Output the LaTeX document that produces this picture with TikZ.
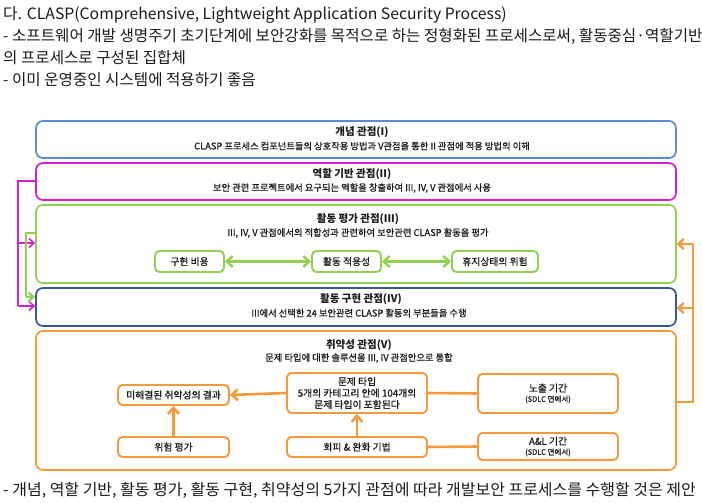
\documentclass[tikz,border=0pt]{standalone}
\usepackage{graphicx}
\usepackage{fontspec}
\setmainfont{Noto Sans CJK KR}
\newfontfamily\semib[FakeBold=0.8]{Noto Sans CJK KR}
\usetikzlibrary{arrows.meta}
\definecolor{cI}{HTML}{5B8BD3}
\definecolor{cII}{HTML}{D81FD0}
\definecolor{cIII}{HTML}{92D050}
\definecolor{cIV}{HTML}{35599A}
\definecolor{cV}{HTML}{F9993A}
\definecolor{txt}{HTML}{1A1A1A}
\begin{document}
\begin{tikzpicture}[x=1pt,y=-1pt,
  bigbox/.style={draw=#1, line width=1.7pt, rounded corners=7pt, inner sep=0pt},
  smallbox/.style={draw=#1, line width=1.9pt, rounded corners=4.5pt, inner sep=0pt, text=txt, font=\semib\fontsize{9.8}{12}\selectfont, align=center},
  ttl/.style={text=txt, inner sep=0pt, font=\bfseries\fontsize{10.5}{12}\selectfont},
  subt/.style={text=txt, inner sep=0pt, font=\semib\fontsize{9.3}{10}\selectfont},
  head/.style={text=txt, inner sep=0pt, anchor=west, font=\fontsize{15.6}{17}\selectfont},
  garrow/.style={draw=cIII, line width=2.4pt, {Straight Barb[length=6pt,width=11pt]}-{Straight Barb[length=6pt,width=11pt]}},
  oarrow/.style={draw=cV, line width=2.6pt, -{Straight Barb[length=6pt,width=11pt]}},
  oline/.style={draw=cV, line width=2.6pt},
  marrow/.style={draw=cII, line width=1.6pt, -{Straight Barb[length=5pt,width=9pt]}},
  grarrow/.style={draw=cIII, line width=2.2pt, -{Straight Barb[length=5pt,width=9pt]}},
  orarrow/.style={draw=cV, line width=2.4pt, -{Straight Barb[length=5pt,width=10pt]}}
]
\useasboundingbox (0,0) rectangle (702,503);

% header text
\node[head] (h1) at (3,15) {\scalebox{1.01}[1]{다. CLASP(Comprehensive, Lightweight Application Security Process)}};
\node[head] (h2) at (3,36) {- 소프트웨어 개발 생명주기 초기단계에 보안강화를 목적으로 하는 정형화된 프로세스로써, 활동중심·역할기반};
\node[head] (h3) at (3,58) {의 프로세스로 구성된 집합체};
\node[head] (h4) at (3,80) {- 이미 운영중인 시스템에 적용하기 좋음};
\node[head] (h5) at (3,490) {\scalebox{1.025}[1]{- 개념, 역할 기반, 활동 평가, 활동 구현, 취약성의 5가지 관점에 따라 개발보안 프로세스를 수행할 것은 제안}};

% big boxes
\node[bigbox=cI, minimum width=640pt, minimum height=37pt] (b1) at (356,139.5) {};
\node[bigbox=cII, minimum width=640pt, minimum height=37pt] (b2) at (356,181.5) {};
\node[bigbox=cIII, minimum width=640pt, minimum height=78pt] (b3) at (356,244) {};
\node[bigbox=cIV, minimum width=640pt, minimum height=38pt] (b4) at (356,307) {};
\node[bigbox=cV, minimum width=640pt, minimum height=139pt] (b5) at (356,400.5) {};

% titles
\node[ttl] (t1) at (362,132) {개념 관점(I)};
\node[subt] (s1) at (362,146) {CLASP 프로세스 컴포넌트들의 상호작용 방법과 V관점을 통한 II 관점에 적용 방법의 이해};
\node[ttl] (t2) at (352,174) {역할 기반 관점(II)};
\node[subt] (s2) at (352,188) {보안 관련 프로젝트에서 요구되는 역할을 창출하여 III, IV, V 관점에서 사용};
\node[ttl] (t3) at (358,219) {활동 평가 관점(III)};
\node[subt] (s3) at (358,233) {III, IV, V 관점에서의 적합성과 관련하여 보안관련 CLASP 활동을 평가};
\node[ttl] (t4) at (361,299) {활동 구현 관점(IV)};
\node[subt] (s4) at (359,313) {III에서 선택한 24 보안관련 CLASP 활동의 부분들을 수행};
\node[ttl] (t5) at (359,345) {취약성 관점(V)};
\node[subt] (s5) at (359,358) {문제 타입에 대한 솔루션을 III, IV 관점안으로 통합};

% III sub boxes
\node[smallbox=cIII, minimum width=69pt, minimum height=21pt] (ga) at (189.5,261.5) {구현 비용};
\node[smallbox=cIII, minimum width=69pt, minimum height=21pt] (gb) at (346.5,261.5) {활동 적용성};
\node[smallbox=cIII, minimum width=86pt, minimum height=21pt] (gc) at (495,261.5) {휴지상태의 위험};
\draw[garrow] (ga) -- (gb);
\draw[garrow] (gb) -- (gc);

% V sub boxes
\node[smallbox=cV, minimum width=111pt, minimum height=20pt] (vm) at (173.5,395) {미해결된 취약성의 결과};
\node[smallbox=cV, minimum width=140pt, minimum height=40pt, font=\semib\fontsize{9.8}{11.5}\selectfont] (vp) at (357,393) {문제 타입\\5개의 카테고리 안에 104개의\\문제 타입이 포함된다};
\node[smallbox=cV, minimum width=140pt, minimum height=39pt] (ve) at (548,393.5) {노출 기간\\[-2pt]{\fontsize{7.5}{8}\selectfont (SDLC 면에서)}};
\node[smallbox=cV, minimum width=111pt, minimum height=20pt] (vr) at (173.5,447) {위험 평가};
\node[smallbox=cV, minimum width=140pt, minimum height=20pt] (vh) at (357,447) {회피 \& 완화 기법};
\node[smallbox=cV, minimum width=140pt, minimum height=27pt] (va) at (548,446.5) {A\&L 기간\\[-2pt]{\fontsize{7.5}{8}\selectfont (SDLC 면에서)}};

\draw[oarrow] (vp.west) -- (vm.east);
\draw[oline] (ve.west) -- (vp.east);
\draw[oline] (va.west) -- (vh.east);
\draw[oarrow] (vr.north) -- (vm.south);
\draw[oarrow] (vh.north) -- (vp.south);

% left connectors
\coordinate (m1) at (18,181);
\coordinate (m2) at (18,243);
\coordinate (m3) at (18,306);
\draw[cII, line width=1.6pt] (b2.west |- m1) -- (m1) -- (m3);
\draw[marrow] (m2) -- (b3.west |- m2);
\draw[marrow] (m3) -- (b4.west |- m3);
\coordinate (g1) at (26,233);
\coordinate (g2) at (26,297);
\draw[cIII, line width=2.2pt] (b3.west |- g1) -- (g1) -- (g2);
\draw[grarrow] (g2) -- (b4.west |- g2);

% right connectors
\coordinate (o1) at (693,402);
\coordinate (o2) at (693,244);
\coordinate (o3) at (693,308);
\draw[oline] (b5.east |- o1) -- (o1) -- (o2);
\draw[orarrow] (o2) -- (b3.east |- o2);
\draw[orarrow] (o3) -- (b4.east |- o3);
\end{tikzpicture}
\end{document}
